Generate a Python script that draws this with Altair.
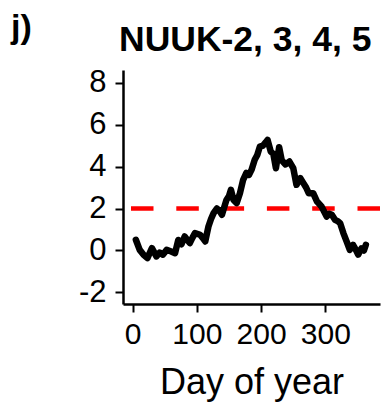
import altair as alt
import pandas as pd

# Daily series (day of year, value)
days = [5, 11, 17, 23, 30, 37, 42, 47, 53, 60, 66, 71, 76, 81, 89, 93, 97, 105, 109, 113,
        118, 122, 126, 131, 135, 139, 146, 150, 153, 157, 162, 167, 172, 177, 181, 185, 190,
        194, 198, 203, 207, 210, 215, 219, 223, 228, 232, 238, 244, 250, 255, 261, 266, 270,
        274, 281, 287, 294, 302, 306, 310, 315, 319, 323, 328, 333, 338, 343, 347, 351, 356,
        360, 363]
values = [0.51, 0.03, -0.2, -0.36, 0.11, -0.28, -0.1, -0.2, 0.03, -0.05, -0.13, 0.5, 0.3,
          0.67, 0.35, 0.6, 0.83, 0.75, 0.6, 0.43, 1.14, 1.5, 1.78, 2.0, 1.9, 1.7, 2.41, 2.6,
          2.89, 2.41, 2.26, 2.73, 3.37, 3.7, 3.6, 3.84, 4.32, 4.55, 4.95, 5.0, 5.15, 5.27, 4.71,
          4.6, 3.92, 4.92, 4.3, 4.1, 4.24, 3.92, 3.13, 3.45, 3.2, 3.0, 2.73, 2.73, 2.33, 2.1,
          1.62, 1.75, 1.7, 1.46, 1.4, 1.3, 0.83, 0.43, 0.03, 0.27, 0.05, -0.2, 0.1, 0.0, 0.27]

threshold = [2]
x_ticks = [0, 100, 200, 300]
y_ticks = [-2, 0, 2, 4, 6, 8]

series = pd.DataFrame({"day": days, "value": values})
thr = pd.DataFrame({"value": threshold})
tag = pd.DataFrame({"label": ["j)"]})
heading = pd.DataFrame({"label": ["NUUK-2, 3, 4, 5"]})

FONT = "Liberation Sans"

x = alt.X("day:Q", title="Day of year",
          scale=alt.Scale(domain=[-15, 385], nice=False, zero=False),
          axis=alt.Axis(values=x_ticks, grid=False, domainWidth=2.5, domainColor="black",
                        tickColor="black", tickWidth=2, tickSize=8, labelFontSize=30,
                        labelColor="black", labelPadding=7, labelFont=FONT,
                        titleFont=FONT, titleFontSize=36, titleFontWeight="normal",
                        titleColor="black", titlePadding=16))
y = alt.Y("value:Q", title=None,
          scale=alt.Scale(domain=[-2.55, 8.6], nice=False, zero=False),
          axis=alt.Axis(values=y_ticks, grid=False, domainWidth=2.5, domainColor="black",
                        tickColor="black", tickWidth=2, tickSize=8, labelFontSize=31,
                        labelColor="black", labelPadding=9, labelFont=FONT,
                        labelExpr="'' + datum.value"))

line = alt.Chart(series).mark_line(color="black", strokeWidth=6.5, strokeCap="round",
                                   strokeJoin="round").encode(x=x, y=y)

rule = alt.Chart(thr).mark_rule(color="#ff0000", strokeWidth=4.5,
                                strokeDash=[22.5, 22.8]).encode(y="value:Q")

# panel tag and panel heading above the plot area
tag_text = alt.Chart(tag).mark_text(font=FONT, fontSize=34, fontWeight="bold", align="left",
                                    baseline="alphabetic", color="black").encode(
    x=alt.value(-112), y=alt.value(-32), text="label:N")
head_text = alt.Chart(heading).mark_text(font=FONT, fontSize=35.5, fontWeight="bold",
                                         align="left", baseline="alphabetic",
                                         color="black").encode(
    x=alt.value(-4), y=alt.value(-19), text="label:N")

chart = alt.layer(rule, line, tag_text, head_text).properties(
    width=257,
    height=234,
    autosize=alt.AutoSizeParams(type="none"),
    padding={"left": 123, "top": 70, "right": 2, "bottom": 106},
).configure_view(stroke=None)

chart.save("out.html", embed_options={"renderer": "svg", "actions": False})
